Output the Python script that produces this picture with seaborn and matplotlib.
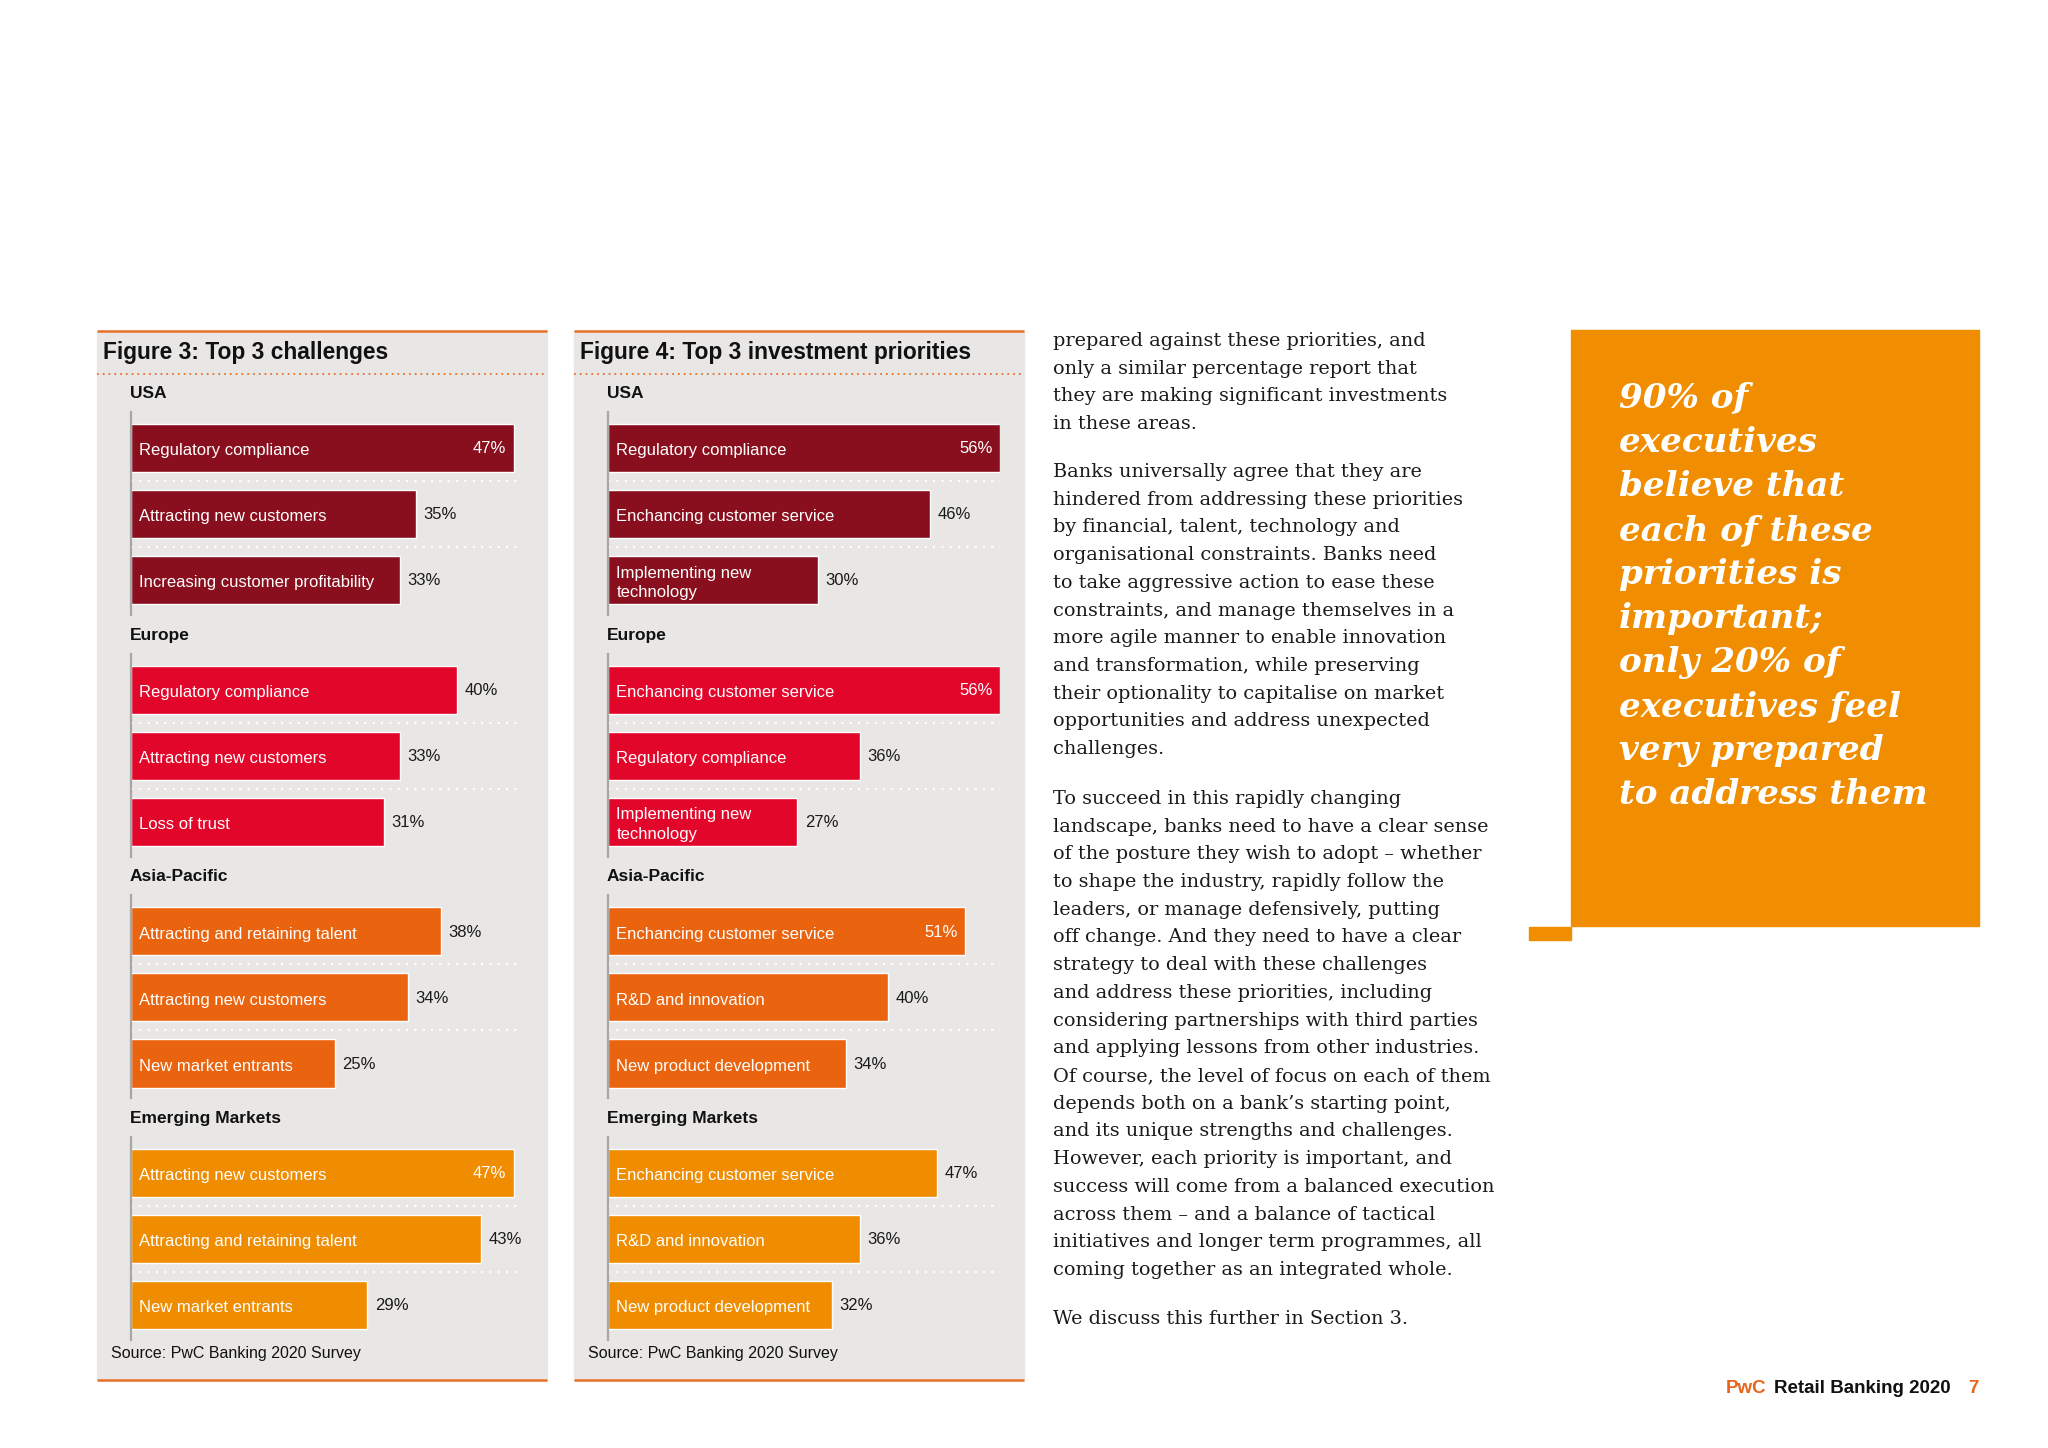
import matplotlib
matplotlib.use("Agg")
import matplotlib.pyplot as plt
from matplotlib.patches import Rectangle
import seaborn as sns
import pandas as pd

# Figure 3: top 3 challenges
regions = ["USA", "Europe", "Asia-Pacific", "Emerging Markets"]
usa_challenges = ["Regulatory compliance", "Attracting new customers", "Increasing customer profitability"]
usa_challenges_pct = [47, 35, 33]
eur_challenges = ["Regulatory compliance", "Attracting new customers", "Loss of trust"]
eur_challenges_pct = [40, 33, 31]
apac_challenges = ["Attracting and retaining talent", "Attracting new customers", "New market entrants"]
apac_challenges_pct = [38, 34, 25]
em_challenges = ["Attracting new customers", "Attracting and retaining talent", "New market entrants"]
em_challenges_pct = [47, 43, 29]

# Figure 4: top 3 investment priorities
usa_invest = ["Regulatory compliance", "Enchancing customer service", "Implementing new\ntechnology"]
usa_invest_pct = [56, 46, 30]
eur_invest = ["Enchancing customer service", "Regulatory compliance", "Implementing new\ntechnology"]
eur_invest_pct = [56, 36, 27]
apac_invest = ["Enchancing customer service", "R&D and innovation", "New product development"]
apac_invest_pct = [51, 40, 34]
em_invest = ["Enchancing customer service", "R&D and innovation", "New product development"]
em_invest_pct = [47, 36, 32]

region_colors = ["#8a0f1e", "#e2062b", "#ea630e", "#f08c00"]
ORANGE = "#e8702a"
PANEL = "#e9e7e5"

sns.set_style("white")
plt.rcParams["font.family"] = ["Liberation Sans", "DejaVu Sans"]

W, H = 2048, 1448
fig = plt.figure(figsize=(W / 100, H / 100), dpi=100)
bg = fig.add_axes([0, 0, 1, 1])
bg.set_xlim(0, W)
bg.set_ylim(H, 0)
bg.axis("off")


def px_axes(x0, y0, x1, y1):
    return fig.add_axes([x0 / W, 1 - y1 / H, (x1 - x0) / W, (y1 - y0) / H])


def draw_group(ax, labels, pct, color, xmax, inside_from):
    df = pd.DataFrame({"label": labels, "pct": pct})
    sns.barplot(data=df, x="pct", y="label", orient="y", color=color,
                saturation=1, width=0.73, ax=ax)
    ax.set_xlim(0, xmax)
    ax.set_ylim(2.53, -0.545)
    ax.set_facecolor("none")
    ax.set_xticks([])
    ax.set_yticks([])
    ax.set_xlabel("")
    ax.set_ylabel("")
    for s in ["top", "right", "bottom"]:
        ax.spines[s].set_visible(False)
    ax.spines["left"].set_color("#a9a7a5")
    ax.spines["left"].set_linewidth(1.6)
    for yy in [0.5, 1.5]:
        ax.axhline(yy, color="white", lw=1.5, ls=(0, (1, 3)), zorder=0)
    for i, (lab, v) in enumerate(zip(labels, pct)):
        ax.annotate(lab, xy=(0, i), xytext=(6, -2), textcoords="offset points",
                    ha="left", va="center", color="white", fontsize=12,
                    linespacing=1.35)
        if v >= inside_from:
            ax.annotate(f"{v}%", xy=(v, i), xytext=(-5.5, -0.5), textcoords="offset points",
                        ha="right", va="center", color="white", fontsize=12)
        else:
            ax.annotate(f"{v}%", xy=(v, i), xytext=(5.5, -0.5), textcoords="offset points",
                        ha="left", va="center", color="#1a1a1a", fontsize=12)


panels = [
    dict(x0=97, x1=547, ax0=131, ax1=522, xmax=48.0, inside=45,
         title="Figure 3: Top 3 challenges",
         labels=[usa_challenges, eur_challenges, apac_challenges, em_challenges],
         pct=[usa_challenges_pct, eur_challenges_pct, apac_challenges_pct, em_challenges_pct]),
    dict(x0=574, x1=1024, ax0=608, ax1=1000, xmax=56.0, inside=50,
         title="Figure 4: Top 3 investment priorities",
         labels=[usa_invest, eur_invest, apac_invest, em_invest],
         pct=[usa_invest_pct, eur_invest_pct, apac_invest_pct, em_invest_pct]),
]

for p in panels:
    x0, x1 = p["x0"], p["x1"]
    bg.add_patch(Rectangle((x0, 331), x1 - x0, 1380 - 331, color=PANEL, zorder=0))
    bg.plot([x0, x1], [331, 331], color=ORANGE, lw=1.8, solid_capstyle="butt")
    bg.plot([x0, x1], [374, 374], color=ORANGE, lw=1.3, ls=(0, (1, 2.2)))
    bg.plot([x0, x1], [1380, 1380], color=ORANGE, lw=1.8, solid_capstyle="butt")
    bg.text(x0 + 6, 359, p["title"], fontsize=16.4, fontweight="bold",
            color="#111111", va="baseline", ha="left")
    bg.text(x0 + 14, 1358, "Source: PwC Banking 2020 Survey", fontsize=11.5,
            color="#111111", va="baseline", ha="left")
    for g, region in enumerate(regions):
        h = 392 + 241.7 * g
        bg.text(p["ax0"] - 1, h + 6, region, fontsize=12.5, fontweight="bold",
                color="#111111", va="baseline", ha="left")
        ax = px_axes(p["ax0"], h + 20, p["ax1"], h + 223)
        draw_group(ax, p["labels"][g], p["pct"][g], region_colors[g], p["xmax"], p["inside"])

# body text column
paragraphs = [
    ["prepared against these priorities, and",
     "only a similar percentage report that",
     "they are making significant investments",
     "in these areas."],
    ["Banks universally agree that they are",
     "hindered from addressing these priorities",
     "by financial, talent, technology and",
     "organisational constraints. Banks need",
     "to take aggressive action to ease these",
     "constraints, and manage themselves in a",
     "more agile manner to enable innovation",
     "and transformation, while preserving",
     "their optionality to capitalise on market",
     "opportunities and address unexpected",
     "challenges."],
    ["To succeed in this rapidly changing",
     "landscape, banks need to have a clear sense",
     "of the posture they wish to adopt \u2013 whether",
     "to shape the industry, rapidly follow the",
     "leaders, or manage defensively, putting",
     "off change. And they need to have a clear",
     "strategy to deal with these challenges",
     "and address these priorities, including",
     "considering partnerships with third parties",
     "and applying lessons from other industries.",
     "Of course, the level of focus on each of them",
     "depends both on a bank\u2019s starting point,",
     "and its unique strengths and challenges.",
     "However, each priority is important, and",
     "success will come from a balanced execution",
     "across them \u2013 and a balance of tactical",
     "initiatives and longer term programmes, all",
     "coming together as an integrated whole."],
    ["We discuss this further in Section 3."],
]
para_starts = [341, 472, 799, 1319]
for lines, y0 in zip(paragraphs, para_starts):
    for i, line in enumerate(lines):
        bg.text(1053, y0 + i * 27.7, line, fontsize=13.9, family="DejaVu Serif",
                color="#1a1a1a", va="center", ha="left")

# callout box
bg.add_patch(Rectangle((1571, 330), 1979 - 1571, 926 - 330, color="#f08d00", zorder=1))
bg.add_patch(Rectangle((1529, 927), 1571 - 1529, 13, color="#f08d00", zorder=1))
callout = ["90% of", "executives", "believe that", "each of these", "priorities is",
           "important;", "only 20% of", "executives feel", "very prepared", "to address them"]
for i, line in enumerate(callout):
    bg.text(1619, 398 + i * 44.1, line, fontsize=24.6, family="DejaVu Serif",
            fontweight="bold", fontstyle="italic", color="white",
            va="center", ha="left", zorder=2)

# footer
bg.text(1726, 1393, "PwC", fontsize=13.5, fontweight="bold", color="#e8641a", va="baseline")
bg.text(1774, 1393, "Retail Banking 2020", fontsize=13.5, fontweight="bold", color="#111111", va="baseline")
bg.text(1968, 1393, "7", fontsize=13.5, fontweight="bold", color="#e8641a", va="baseline")

fig.savefig("out.png", dpi=100, facecolor="white")
